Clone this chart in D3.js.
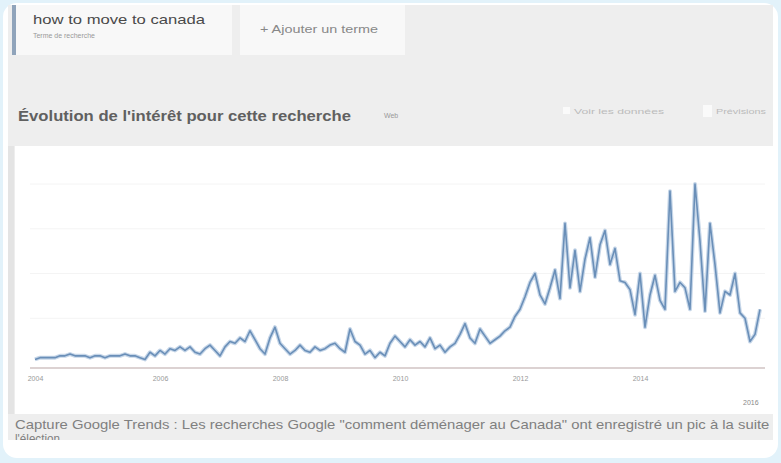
<!DOCTYPE html>
<html>
<head>
<meta charset="utf-8">
<script src="https://cdn.jsdelivr.net/npm/d3@7"></script>
<style>
  html, body { margin: 0; padding: 0; background: #e2f2fa; }
  svg { display: block; font-family: "Liberation Sans", Arial, sans-serif; }
</style>
</head>
<body>
<svg id="chart" width="781" height="463"></svg>
<script>
// interest over time, monthly, 0-100
var interest = [
  2, 3, 3, 3, 3, 4, 4, 5, 4, 4, 4, 3, 4, 4, 3, 4, 4, 4, 5, 4,
  4, 3, 2, 6, 4, 7, 5, 8, 7, 9, 7, 9, 6, 5, 8, 10, 7, 4, 9, 12,
  11, 14, 12, 18, 13, 8, 5, 14, 20, 11, 8, 5, 7, 10, 7, 6, 9, 7, 8, 10,
  11, 8, 6, 19, 12, 10, 5, 7, 3, 6, 4, 11, 15, 12, 9, 13, 10, 12, 9, 14,
  8, 10, 6, 9, 11, 16, 22, 14, 11, 19, 15, 11, 13, 15, 18, 20, 26, 30, 37, 45,
  50, 38, 33, 42, 52, 36, 78, 42, 63, 40, 58, 70, 48, 66, 74, 55, 64, 46, 45, 41,
  27, 50, 20, 38, 49, 35, 30, 96, 40, 45, 42, 30, 100, 68, 29, 78, 55, 28, 40, 38,
  50, 28, 25, 12, 16, 30
];
var tickIndex = [0, 25, 49, 73, 97, 121];
var tickLabels = ["2004", "2006", "2008", "2010", "2012", "2014"];
var lastLabel = "2016";

var searchTerm = "how to move to canada";
var termSub = "Terme de recherche";
var addTerm = "+ Ajouter un terme";
var title = "Évolution de l'intérêt pour cette recherche";
var caption = "Capture Google Trends : Les recherches Google \"comment déménager au Canada\" ont enregistré un pic à la suite de";
var caption2 = "l'élection";

var svg = d3.select("#chart");

// card + screenshot background
svg.append("rect").attr("x", 3).attr("y", 3).attr("width", 775).attr("height", 455)
  .attr("rx", 14).attr("fill", "#ffffff");
svg.append("defs").append("clipPath").attr("id", "shot")
  .append("rect").attr("x", 8).attr("y", 5).attr("width", 765).attr("height", 435);
var shot = svg.append("g").attr("clip-path", "url(#shot)");
shot.append("rect").attr("x", 8).attr("y", 5).attr("width", 765).attr("height", 435).attr("fill", "#eeeeee");

// tabs
shot.append("rect").attr("x", 12).attr("y", 5).attr("width", 220).attr("height", 50).attr("fill", "#f8f8f8");
shot.append("rect").attr("x", 12).attr("y", 5).attr("width", 4).attr("height", 50).attr("fill", "#90a4bb");
shot.append("rect").attr("x", 240).attr("y", 5).attr("width", 165).attr("height", 50).attr("fill", "#f8f8f8");
shot.append("text").attr("x", 33).attr("y", 24).attr("font-size", 13).attr("fill", "#4a4a4a")
  .attr("textLength", 172).attr("lengthAdjust", "spacingAndGlyphs").text(searchTerm);
shot.append("text").attr("x", 33).attr("y", 38).attr("font-size", 8).attr("fill", "#999")
  .attr("textLength", 62).attr("lengthAdjust", "spacingAndGlyphs").text(termSub);
shot.append("text").attr("x", 260).attr("y", 33).attr("font-size", 10).attr("fill", "#888")
  .attr("textLength", 118).attr("lengthAdjust", "spacingAndGlyphs").text(addTerm);

// header row
shot.append("text").attr("x", 18).attr("y", 121).attr("font-size", 15).attr("font-weight", "bold")
  .attr("fill", "#606060")
  .attr("textLength", 333).attr("lengthAdjust", "spacingAndGlyphs").text(title);
shot.append("text").attr("x", 384).attr("y", 118).attr("font-size", 7).attr("fill", "#999").text("Web");
shot.append("rect").attr("x", 563).attr("y", 107).attr("width", 7).attr("height", 7).attr("fill", "#fafafa");
shot.append("text").attr("x", 574).attr("y", 114).attr("font-size", 7).attr("fill", "#bbb")
  .attr("textLength", 90).attr("lengthAdjust", "spacingAndGlyphs").text("Voir les données");
shot.append("rect").attr("x", 703).attr("y", 105).attr("width", 9).attr("height", 12).attr("fill", "#fafafa");
shot.append("text").attr("x", 716).attr("y", 114).attr("font-size", 7).attr("fill", "#bbb")
  .attr("textLength", 50).attr("lengthAdjust", "spacingAndGlyphs").text("Prévisions");

// chart panel
shot.append("rect").attr("x", 8).attr("y", 146).attr("width", 6).attr("height", 268).attr("fill", "#e4e4e4");
shot.append("rect").attr("x", 15).attr("y", 146).attr("width", 760).attr("height", 268).attr("fill", "#ffffff");

var x = d3.scaleLinear().domain([0, interest.length - 1]).range([35, 760]);
var y = d3.scaleLinear().domain([0, 100]).range([363, 184]);

shot.append("g").selectAll("line").data([25, 50, 75, 100]).enter().append("line")
  .attr("x1", 30).attr("x2", 765)
  .attr("y1", function(d){ return y(d); }).attr("y2", function(d){ return y(d); })
  .attr("stroke", "#f4f4f4");

var xAxis = d3.axisBottom(x)
  .tickValues(tickIndex)
  .tickSize(0)
  .tickPadding(8)
  .tickFormat(function(d, i){ return tickLabels[i]; });

var ax = shot.append("g").attr("transform", "translate(0,368)").call(xAxis);
ax.select(".domain").remove();
ax.selectAll("text").attr("font-size", 7).attr("fill", "#999").attr("font-family", "Liberation Sans, Arial");
ax.append("line").attr("x1", 30).attr("x2", 765).attr("stroke", "#dcd2d2").attr("stroke-width", 2);

var line = d3.line()
  .x(function(d, i){ return x(i); })
  .y(function(d){ return y(d); });

shot.append("path").datum(interest).attr("d", line)
  .attr("fill", "none").attr("stroke", "#c6d6e8").attr("stroke-width", 4).attr("stroke-linejoin", "round");
shot.append("path").datum(interest).attr("d", line)
  .attr("fill", "none").attr("stroke", "#6a8fb8").attr("stroke-width", 1.6).attr("stroke-linejoin", "round");

shot.append("text").attr("x", 743).attr("y", 405).attr("font-size", 7).attr("fill", "#888").text(lastLabel);

// caption
shot.append("text").attr("x", 15).attr("y", 429).attr("font-size", 13).attr("fill", "#808080")
  .attr("textLength", 775).attr("lengthAdjust", "spacingAndGlyphs").text(caption);
shot.append("text").attr("x", 15).attr("y", 443).attr("font-size", 13).attr("fill", "#808080")
  .attr("textLength", 45).attr("lengthAdjust", "spacingAndGlyphs").text(caption2);
</script>
</body>
</html>
